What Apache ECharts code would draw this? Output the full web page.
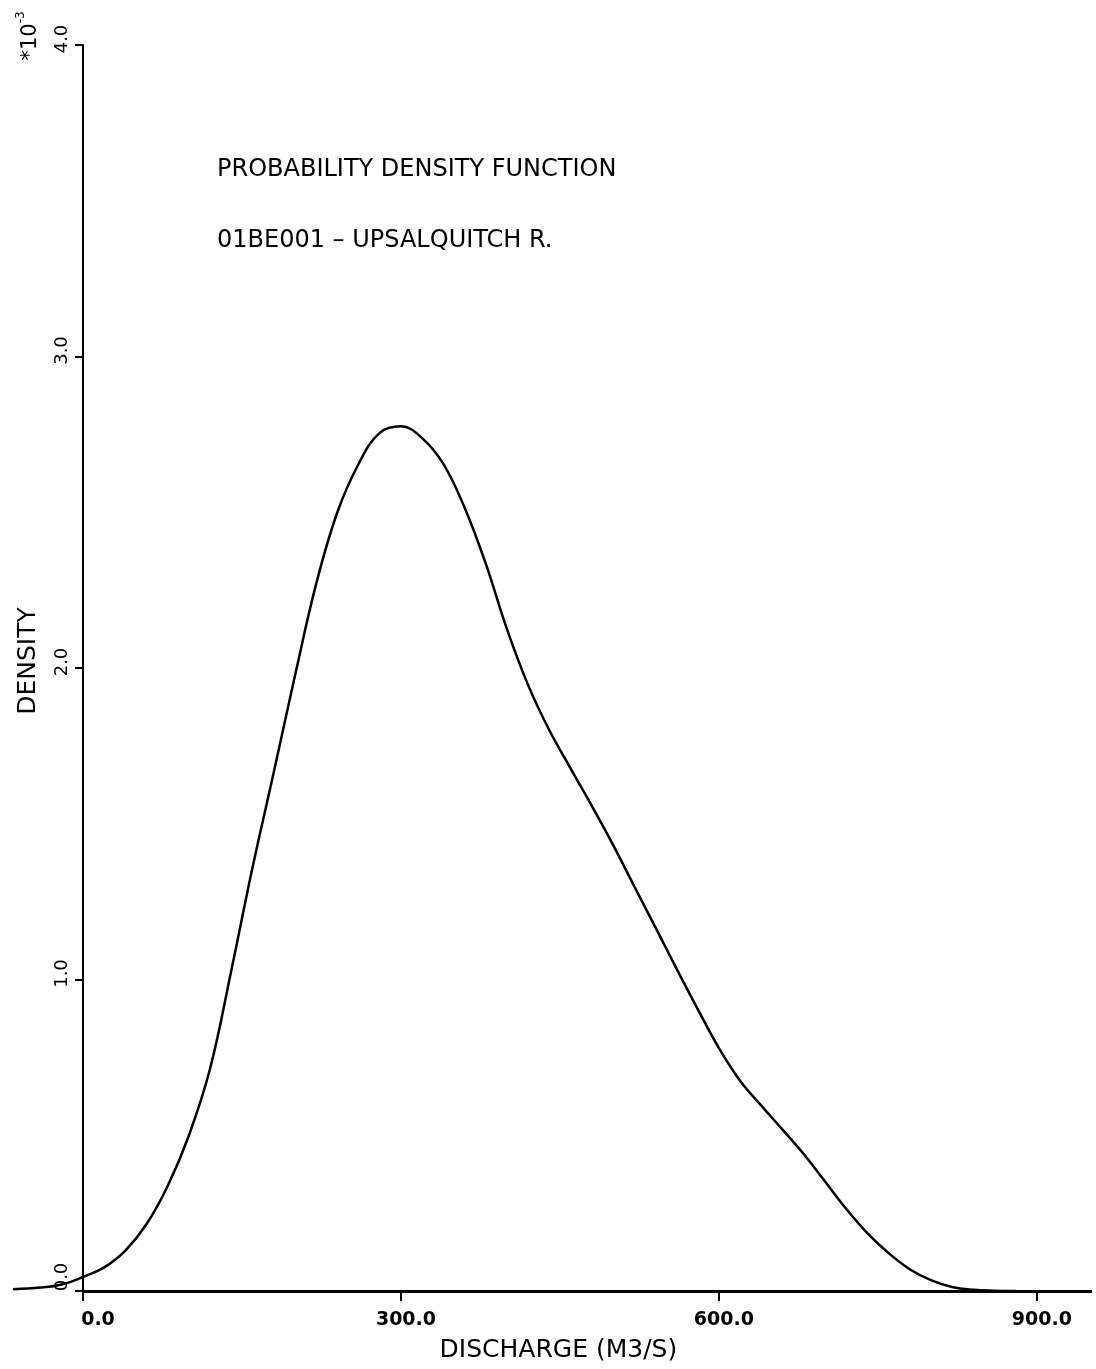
<!DOCTYPE html>
<html>
<head>
<meta charset="utf-8">
<script src="https://cdn.jsdelivr.net/npm/echarts@6/dist/echarts.min.js"></script>
<style>
  html, body { margin: 0; padding: 0; background: #fff; }
  #chart { width: 1096px; height: 1369px; }
</style>
</head>
<body>
<div id="chart"></div>
<script>
// Discharge (m3/s) and probability density (x 10^-3) along the fitted curve
const discharge = [-66, -40, -20, 0, 20, 40, 60, 80, 100, 120, 140, 160, 180, 200, 220, 240, 260, 280, 300, 320, 340, 360, 380, 400, 420, 440, 460, 480, 500, 520, 540, 560, 580, 600, 620, 640, 660, 680, 700, 720, 740, 760, 780, 800, 820, 840, 860, 880];
const density = [0.006, 0.011, 0.021, 0.045, 0.076, 0.130, 0.215, 0.338, 0.500, 0.715, 1.030, 1.360, 1.665, 1.975, 2.270, 2.500, 2.655, 2.755, 2.776, 2.738, 2.655, 2.515, 2.335, 2.125, 1.945, 1.800, 1.678, 1.558, 1.433, 1.300, 1.168, 1.035, 0.905, 0.780, 0.675, 0.595, 0.518, 0.440, 0.352, 0.264, 0.186, 0.122, 0.070, 0.035, 0.013, 0.004, 0.001, 0.0];

// Axis range and tick labels
const xRange = [-70, 952];
const xTicks = [0, 300, 600, 900];
const yTicks = [0, 1, 2, 3, 4];
const titleLines = ['PROBABILITY DENSITY FUNCTION', '01BE001 \u2013 UPSALQUITCH R.'];
const xName = 'DISCHARGE (M3/S)';
const yName = 'DENSITY';

const points = discharge.map((d, i) => [d, density[i]]);

// plot area: the vertical axis sits at discharge 0, inside the left edge
const gridLeft = 8.8;
const gridRight = 4;
const pxPerUnit = (1096 - gridLeft - gridRight) / (xRange[1] - xRange[0]);
const yAxisShift = -xRange[0] * pxPerUnit;

const chart = echarts.init(document.getElementById('chart'), null, { renderer: 'canvas' });

chart.setOption({
  backgroundColor: '#ffffff',
  animation: false,
  grid: { left: gridLeft, right: gridRight, top: 45, bottom: 78, containLabel: false, outerBoundsMode: 'none' },
  xAxis: {
    type: 'value',
    min: xRange[0],
    max: xRange[1],
    name: xName,
    nameLocation: 'middle',
    nameGap: 47,
    nameTextStyle: { fontFamily: 'DejaVu Sans', fontSize: 25, color: '#000', padding: [0, 0, 0, 16] },
    // baseline is drawn from 0 rightwards by the series markLine
    axisLine: { show: false },
    axisTick: { show: true, customValues: xTicks, length: 10, lineStyle: { color: '#000', width: 2 } },
    axisLabel: {
      customValues: xTicks,
      formatter: v => (v === 0 ? '{z|' : '{n|') + v.toFixed(1) + '}',
      margin: 20,
      color: '#000',
      fontFamily: 'DejaVu Sans',
      fontWeight: 'bold',
      fontSize: 19,
      rich: {
        z: { fontFamily: 'DejaVu Sans', fontWeight: 'bold', fontSize: 19, color: '#000', padding: [0, 0, 0, 30] },
        n: { fontFamily: 'DejaVu Sans', fontWeight: 'bold', fontSize: 19, color: '#000', padding: [0, 0, 0, 10] }
      }
    },
    splitLine: { show: false }
  },
  yAxis: {
    type: 'value',
    min: yTicks[0],
    max: yTicks[yTicks.length - 1],
    interval: 1,
    offset: -yAxisShift,
    name: yName,
    nameLocation: 'middle',
    nameGap: 42,
    nameRotate: 90,
    nameTextStyle: { fontFamily: 'DejaVu Sans', fontSize: 25, color: '#000', padding: [0, 0, 0, 14] },
    axisLine: { show: true, onZero: false, lineStyle: { color: '#000', width: 2 } },
    axisTick: { show: true, length: 8, lineStyle: { color: '#000', width: 2 } },
    axisLabel: {
      rotate: 90,
      formatter: v => (v === 0 ? '{z|' : '{n|') + v.toFixed(1) + '}',
      margin: 12,
      color: '#000',
      fontFamily: 'DejaVu Sans',
      fontSize: 18,
      rich: {
        z: { fontFamily: 'DejaVu Sans', fontSize: 18, color: '#000', padding: [0, 0, 0, 28] },
        n: { fontFamily: 'DejaVu Sans', fontSize: 18, color: '#000', padding: [0, 0, 0, 12] }
      }
    },
    splitLine: { show: false }
  },
  graphic: [
    {
      type: 'text', left: 217, top: 158,
      style: { text: titleLines[0], font: '24px "DejaVu Sans"', fill: '#000' }
    },
    {
      type: 'text', left: 217, top: 229,
      style: { text: titleLines[1], font: '24px "DejaVu Sans"', fill: '#000' }
    },
    {
      type: 'text', x: 28, y: 36, rotation: Math.PI / 2,
      style: {
        text: '{a|*10}{b|-3}',
        align: 'center', verticalAlign: 'middle',
        rich: {
          a: { fontFamily: 'DejaVu Sans', fontSize: 21, fill: '#000', verticalAlign: 'bottom', lineHeight: 26 },
          b: { fontFamily: 'DejaVu Sans', fontSize: 12, fill: '#000', verticalAlign: 'top', lineHeight: 26 }
        }
      }
    }
  ],
  series: [{
    type: 'line',
    data: points,
    smooth: 0.4,
    showSymbol: false,
    lineStyle: { color: '#000', width: 2.5 },
    markLine: {
      silent: true,
      symbol: 'none',
      label: { show: false },
      lineStyle: { color: '#000', width: 3, type: 'solid' },
      data: [[{ coord: [0, 0] }, { coord: [xRange[1], 0] }]]
    }
  }]
});
</script>
</body>
</html>
